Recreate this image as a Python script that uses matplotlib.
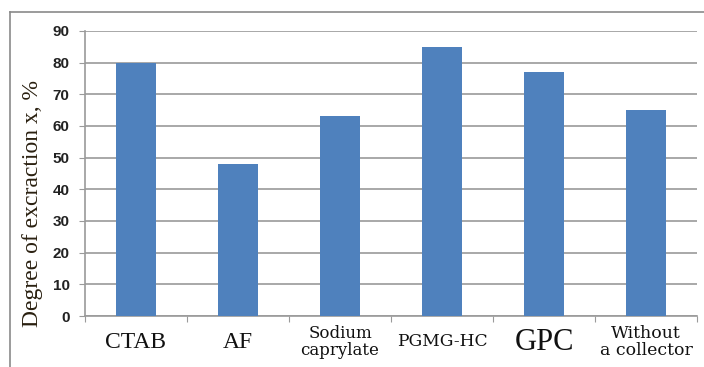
import matplotlib
matplotlib.use("Agg")
import matplotlib.pyplot as plt
from matplotlib.lines import Line2D

categories = ["CTAB", "AF", "Sodium\ncaprylate", "PGMG-HC", "GPC", "Without\na collector"]
values = [80, 48, 63, 85, 77, 65]
label_sizes = [17, 17, 12, 12.3, 22, 12.5]
label_fonts = ["Liberation Serif", "Liberation Serif", "DejaVu Serif", "DejaVu Serif",
               "Liberation Serif", "DejaVu Serif"]
yticks = [0, 10, 20, 30, 40, 50, 60, 70, 80, 90]

W, H = 704, 367
fig = plt.figure(figsize=(W/100, H/100), dpi=100)
ax = fig.add_axes([85/W, 1-316/H, (697-85)/W, (316-31)/H])

x = list(range(len(categories)))
ax.bar(x, values, width=0.39, color="#4f81bd", zorder=3)
ax.set_xlim(-0.5, len(categories)-0.5)
ax.set_ylim(0, 90)
ax.set_yticks(yticks)
ax.set_yticklabels([str(t) for t in yticks], fontsize=11, fontweight="bold",
                   family="Liberation Sans", color="#222222")
ax.grid(axis="y", color="#9a9a9a", linewidth=1.2, zorder=0)
for s in ["top", "right"]:
    ax.spines[s].set_visible(False)
for s in ["left", "bottom"]:
    ax.spines[s].set_color("#9a9a9a")
    ax.spines[s].set_linewidth(1.2)
ax.tick_params(axis="y", length=4, color="#9a9a9a", pad=7)

ax.set_xticks([i + 0.5 for i in range(-1, len(categories))])
ax.set_xticklabels([])
ax.tick_params(axis="x", length=4, color="#9a9a9a")
tr = ax.get_xaxis_transform()
for i, (c, fs, fam) in enumerate(zip(categories, label_sizes, label_fonts)):
    ax.text(i, (316 - 342) / 285, c, ha="center", va="center",
            fontsize=fs, family=fam, color="#111111",
            transform=tr, linespacing=1.05, clip_on=False)

ax.set_ylabel("Degree of excraction x, %", fontsize=17, family="Liberation Serif",
              color="#2a2010")
ax.yaxis.set_label_coords(-0.068, (316 - 204) / 285)

fig.add_artist(Line2D([10/W, 1], [1-12/H, 1-12/H], color="#8a8a8a", linewidth=1.2,
                      transform=fig.transFigure))
fig.add_artist(Line2D([10/W, 10/W], [0, 1-12/H], color="#8a8a8a", linewidth=1.2,
                      transform=fig.transFigure))

fig.savefig("out.png", dpi=100)
